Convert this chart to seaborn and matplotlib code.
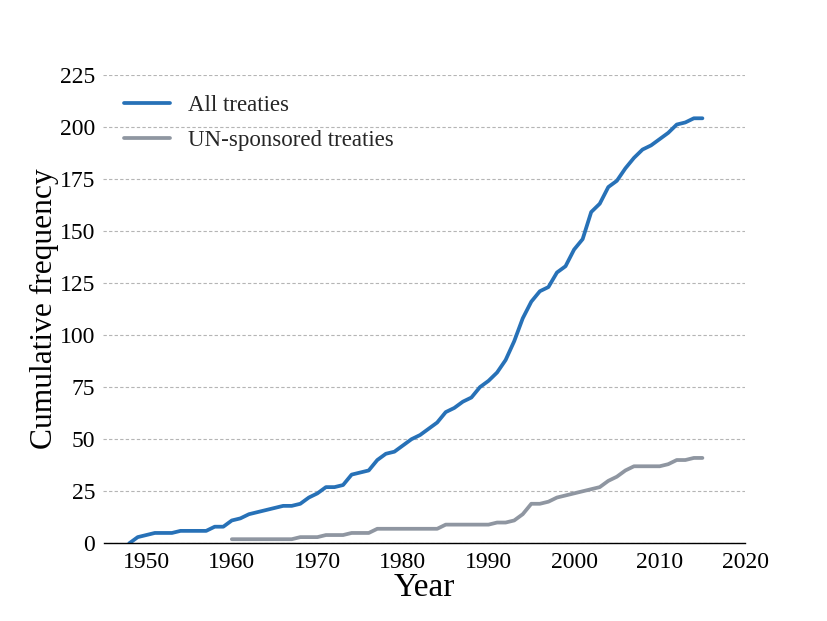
import numpy as np
import pandas as pd
import matplotlib
matplotlib.use("Agg")
import matplotlib.pyplot as plt
import seaborn as sns

all_years = list(range(1948, 2016))
all_counts = [0, 3, 4, 5, 5, 5, 6, 6, 6, 6,
              8, 8, 11, 12, 14, 15, 16, 17, 18, 18,
              19, 22, 24, 27, 27, 28, 33, 34, 35, 40,
              43, 44, 47, 50, 52, 55, 58, 63, 65, 68,
              70, 75, 78, 82, 88, 97, 108, 116, 121, 123,
              130, 133, 141, 146, 159, 163, 171, 174, 180, 185,
              189, 191, 194, 197, 201, 202, 204, 204]

un_years = list(range(1960, 2016))
un_counts = [2, 2, 2, 2, 2, 2, 2, 2,
             3, 3, 3, 4, 4, 4, 5, 5, 5,
             7, 7, 7, 7, 7, 7, 7, 7,
             9, 9, 9, 9, 9, 9,
             10, 10, 11, 14, 19, 19, 20, 22, 23, 24, 25, 26, 27, 30,
             32, 35, 37, 37, 37, 37, 38, 40, 40, 41, 41]

series_names = ["All treaties", "UN-sponsored treaties"]
colors = ["#2771b7", "#8f96a1"]
y_ticks = [0, 25, 50, 75, 100, 125, 150, 175, 200, 225]
x_ticks = [1950, 1960, 1970, 1980, 1990, 2000, 2010, 2020]

df = pd.concat([
    pd.DataFrame({"Year": all_years, "Count": all_counts, "Series": series_names[0]}),
    pd.DataFrame({"Year": un_years, "Count": un_counts, "Series": series_names[1]}),
], ignore_index=True)

sns.set_theme(style="white")
plt.rcParams["font.family"] = ["Liberation Serif", "DejaVu Serif"]

fig, ax = plt.subplots(figsize=(8.28, 6.21), dpi=100)
fig.subplots_adjust(left=0.125, right=0.9, bottom=0.125, top=0.88)

sns.lineplot(data=df, x="Year", y="Count", hue="Series", hue_order=series_names,
             palette=dict(zip(series_names, colors)), linewidth=2.7, ax=ax)

ax.set_xlim(1945, 2020)
ax.set_ylim(0, 225)
ax.set_xticks(x_ticks)
ax.set_yticks(y_ticks)
ax.yaxis.grid(True, linestyle=(0, (3, 2)), color="#b5b5b5", linewidth=0.8)
ax.xaxis.grid(False)
ax.set_axisbelow(True)
for s in ["top", "right", "left"]:
    ax.spines[s].set_visible(False)
ax.spines["bottom"].set_color("black")
ax.spines["bottom"].set_linewidth(1.0)
ax.tick_params(axis="both", length=0, labelsize=17, colors="black", pad=6)
ax.set_xlabel("Year", fontsize=24, color="black", labelpad=0)
ax.set_ylabel("Cumulative frequency", fontsize=22.7, color="black", labelpad=0.5)

leg = ax.legend(loc="upper left", frameon=False, fontsize=16.5, handlelength=2.0,
                handletextpad=0.8, labelspacing=0.6, borderaxespad=0.5,
                bbox_to_anchor=(0.0, 1.0))
for line in leg.get_lines():
    line.set_linewidth(2.7)

fig.savefig("out.png", dpi=100)
